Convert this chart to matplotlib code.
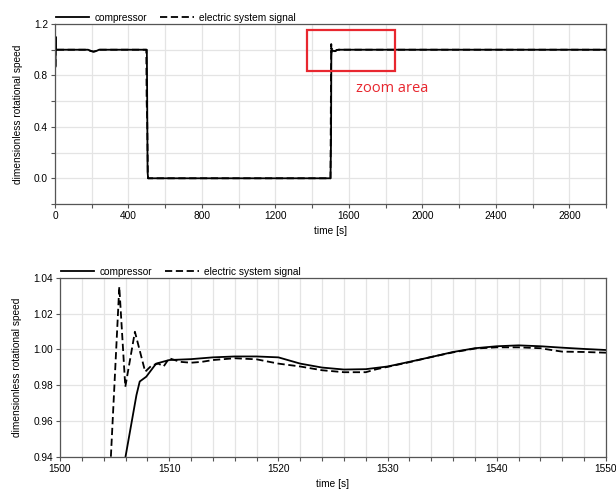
import matplotlib
matplotlib.use("Agg")
import matplotlib.pyplot as plt
from matplotlib.patches import Rectangle
from matplotlib.ticker import MultipleLocator

plt.rcParams['font.family'] = ['Liberation Sans', 'DejaVu Sans']

# ---- top chart data (full run) ----
t_comp_full = [3, 4, 5, 8, 180, 195, 210, 225, 240, 500, 502, 504, 507, 1500, 1503,
               1504.5, 1506, 1510, 1525, 1535, 1545, 3000]
v_comp_full = [0.87, 1.10, 1.0, 1.0, 1.0, 0.99, 0.985, 0.99, 1.0, 1.0, 0.6, 0.05, 0.0, 0.0, 0.3,
               0.95, 0.985, 0.993, 0.989, 0.998, 1.0, 1.0]
t_elec_full = [3, 4, 5, 8, 180, 195, 210, 225, 240, 497, 499, 502, 506, 1500, 1502,
               1504, 1505, 1506, 1507, 1510, 1525, 1535, 1545, 3000]
v_elec_full = [0.87, 1.10, 1.0, 1.0, 1.0, 0.99, 0.985, 0.99, 1.0, 1.0, 0.6, 0.45, 0.0, 0.0, 0.6,
               1.044, 0.98, 1.01, 0.988, 0.994, 0.988, 0.998, 1.0, 1.0]

# ---- bottom chart data (zoom 1500-1550 s) ----
t_comp = [1506.0, 1507.0, 1507.3, 1507.9, 1508.8, 1510, 1512, 1514, 1516, 1518, 1520,
          1522, 1524, 1526, 1528, 1530, 1532, 1534, 1536, 1538, 1540, 1542, 1544, 1546,
          1548, 1550]
v_comp = [0.94, 0.9744, 0.982, 0.9847, 0.992, 0.994, 0.9945, 0.9955, 0.996, 0.996, 0.9955,
          0.992, 0.9898, 0.9887, 0.9889, 0.9904, 0.993, 0.9957, 0.9985, 1.0006, 1.0017,
          1.0022, 1.0017, 1.0009, 1.0002, 0.9996]
t_elec = [1504.66, 1505.43, 1505.98, 1506.86, 1507.8, 1508.4, 1509.0, 1509.5, 1510.0,
          1511.0, 1512.0, 1513.0, 1514, 1516, 1518, 1520, 1522, 1524, 1526, 1528, 1529,
          1530, 1532, 1534, 1536, 1538, 1540, 1542, 1544, 1545.2, 1546, 1548, 1550]
v_elec = [0.94, 1.035, 0.979, 1.0098, 0.9875, 0.991, 0.992, 0.9905, 0.995, 0.993, 0.9925,
          0.993, 0.994, 0.995, 0.9944, 0.992, 0.9904, 0.9883, 0.9872, 0.9872, 0.9889,
          0.9902, 0.9928, 0.9957, 0.9983, 1.0004, 1.0011, 1.0011, 1.0006, 0.9994, 0.9987,
          0.9985, 0.9981]

labels = ["compressor", "electric system signal"]
ylabel = "dimensionless rotational speed"
xlabel = "time [s]"

FS = 7.3
GRID = '#e4e4e4'

fig = plt.figure(figsize=(6.16, 4.95), dpi=100)
ax1 = fig.add_axes([55/616, 1-204/495, 551/616, 180/495])
ax2 = fig.add_axes([60/616, 1-456.7/495, 546/616, 179/495])


def style(ax):
    ax.set_axisbelow(True)
    ax.grid(True, which='both', color=GRID, linewidth=0.9)
    for s in ax.spines.values():
        s.set_color('#555555')
        s.set_linewidth(0.9)
    ax.tick_params(which='both', direction='out', length=3, width=0.8, color='#555555',
                   labelsize=FS, pad=2)


ax1.plot(t_comp_full, v_comp_full, color='black', lw=1.3, label=labels[0])
ax1.plot(t_elec_full, v_elec_full, color='black', lw=1.3, ls=(0, (4, 2)), label=labels[1])
ax1.set_xlim(0, 3000)
ax1.set_ylim(-0.2, 1.2)
ax1.xaxis.set_major_locator(MultipleLocator(400))
ax1.xaxis.set_minor_locator(MultipleLocator(200))
ax1.yaxis.set_major_locator(MultipleLocator(0.4))
ax1.yaxis.set_minor_locator(MultipleLocator(0.2))
ax1.yaxis.set_major_formatter(matplotlib.ticker.FormatStrFormatter('%.1f'))
style(ax1)
ax1.set_xlabel(xlabel, fontsize=FS, labelpad=4)
ax1.set_ylabel(ylabel, fontsize=FS, labelpad=8)
ax1.legend(loc='lower left', bbox_to_anchor=(0.0, 1.0), ncol=2, frameon=False, fontsize=FS,
           handlelength=3.3, handletextpad=0.5, columnspacing=1.3, borderaxespad=0.1,
           borderpad=0.0)

ax1.add_patch(Rectangle((1373, 0.834), 479, 0.319, fill=False, edgecolor='#e8272f', lw=1.6,
                        zorder=5))
ax1.text(1640, 0.70, "zoom area", color='#e8272f', fontsize=10.5, family='Open Sans',
         ha='left', va='center')

ax2.plot(t_comp, v_comp, color='black', lw=1.3, label=labels[0])
ax2.plot(t_elec, v_elec, color='black', lw=1.3, ls=(0, (4, 2)), label=labels[1])
ax2.set_xlim(1500, 1550)
ax2.set_ylim(0.94, 1.04)
ax2.xaxis.set_major_locator(MultipleLocator(10))
ax2.xaxis.set_minor_locator(MultipleLocator(2))
ax2.yaxis.set_major_locator(MultipleLocator(0.02))
ax2.yaxis.set_major_formatter(matplotlib.ticker.FormatStrFormatter('%.2f'))
style(ax2)
ax2.set_xlabel(xlabel, fontsize=FS, labelpad=4)
ax2.set_ylabel(ylabel, fontsize=FS, labelpad=8)
ax2.legend(loc='lower left', bbox_to_anchor=(0.0, 1.0), ncol=2, frameon=False, fontsize=FS,
           handlelength=3.3, handletextpad=0.5, columnspacing=1.3, borderaxespad=0.1,
           borderpad=0.0)

fig.savefig("out.png", dpi=100)
